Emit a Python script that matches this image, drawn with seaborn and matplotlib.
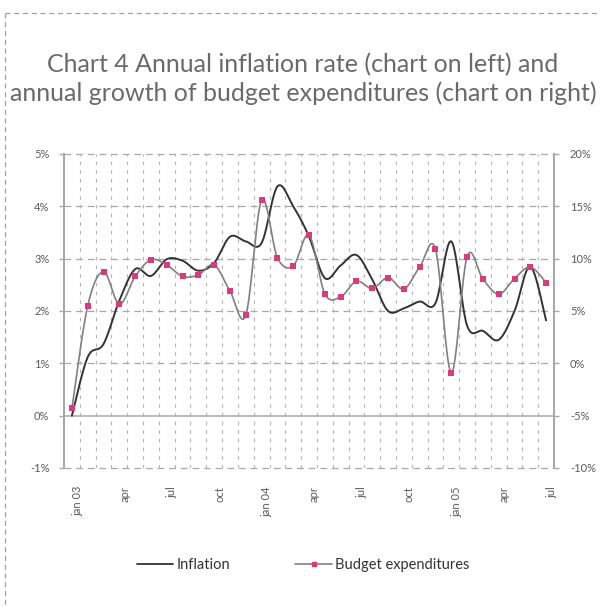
import numpy as np
import pandas as pd
import matplotlib
matplotlib.use("Agg")
import matplotlib.pyplot as plt
import seaborn as sns
from matplotlib.lines import Line2D

# Monthly observations, Jan 2003 - Jul 2005
months = ["Jan 03", "Feb 03", "Mar 03", "Apr 03", "May 03", "Jun 03",
          "Jul 03", "Aug 03", "Sep 03", "Oct 03", "Nov 03", "Dec 03",
          "Jan 04", "Feb 04", "Mar 04", "Apr 04", "May 04", "Jun 04",
          "Jul 04", "Aug 04", "Sep 04", "Oct 04", "Nov 04", "Dec 04",
          "Jan 05", "Feb 05", "Mar 05", "Apr 05", "May 05", "Jun 05",
          "Jul 05"]

# Annual inflation rate, % (left axis)
inflation = [0.0, 1.12, 1.37, 2.2, 2.8, 2.67, 2.99, 2.96, 2.77, 2.92,
             3.42, 3.33, 3.3, 4.38, 4.0, 3.42, 2.63, 2.87, 3.07, 2.6,
             2.0, 2.05, 2.18, 2.15, 3.33, 1.72, 1.62, 1.45, 2.0, 2.85,
             1.82]

# Annual growth of budget expenditures, % (right axis)
budget = [-4.3, 5.5, 8.75, 5.65, 8.3, 9.9, 9.4, 8.3, 8.45, 9.4,
          6.9, 4.6, 15.6, 10.1, 9.3, 12.25, 6.65, 6.35, 7.85, 7.15,
          8.2, 7.1, 9.2, 10.9, -0.9, 10.2, 8.05, 6.6, 8.1, 9.2,
          7.7]

tick_labels = ["jan 03", "apr", "jul", "oct", "jan 04", "apr", "jul",
               "oct", "jan 05", "apr", "jul"]
left_ticks = [-1, 0, 1, 2, 3, 4, 5]
right_ticks = [-10, -5, 0, 5, 10, 15, 20]

TITLE = ("Chart 4 Annual inflation rate (chart on left) and\n"
         "annual growth of budget expenditures (chart on right)")


def smooth_curve(values, steps=24):
    """Cubic Bezier smoothing through every point (spreadsheet-style)."""
    y = np.asarray(values, dtype=float)
    pts = np.column_stack([np.arange(len(y), dtype=float), y])
    ext = np.vstack([pts[0], pts, pts[-1]])
    t = np.linspace(0.0, 1.0, steps, endpoint=False)[:, None]
    out = []
    for i in range(len(pts) - 1):
        p0, p1, p2, p3 = ext[i], ext[i + 1], ext[i + 2], ext[i + 3]
        c1 = p1 + (p2 - p0) / 6.0
        c2 = p2 - (p3 - p1) / 6.0
        seg = ((1 - t) ** 3) * p1 + 3 * ((1 - t) ** 2) * t * c1 \
            + 3 * (1 - t) * t ** 2 * c2 + t ** 3 * p2
        out.append(seg)
    out.append(pts[-1:])
    arr = np.vstack(out)
    return pd.DataFrame({"x": arr[:, 0], "y": arr[:, 1]})


sns.set_theme(style="white")
plt.rcParams["font.family"] = ["Lato", "DejaVu Sans"]

GRID = "#a8a8a8"
VGRID = "#b4b4b4"
TEXT = "#5a5a5a"
PINK = "#dc3a7c"

fig = plt.figure(figsize=(6.0, 6.07), dpi=100)
ax = fig.add_axes([0.1067, 0.229, 0.8167, 0.5173])
ax2 = ax.twinx()

n = len(months)
ax.set_xlim(-0.5, n - 0.5)
ax.set_ylim(-1, 5)
ax2.set_ylim(-10, 20)

# gridlines: dashed horizontals, fine dashed verticals at month boundaries
for v in left_ticks:
    if v == 0:
        ax.axhline(v, color=GRID, lw=1.1, zorder=1)
    else:
        ax.axhline(v, color=GRID, lw=0.9, ls=(0, (5.5, 3.8)), zorder=1,
                   clip_on=False)
for b in np.arange(n - 1) + 0.5:
    ax.axvline(b, color=VGRID, lw=0.8, ls=(0, (3.2, 4.6)), zorder=1)

# smoothed series
inf_df = smooth_curve(inflation)
bud_df = smooth_curve(budget)
sns.lineplot(data=inf_df, x="x", y="y", ax=ax, color="#333333", lw=1.4,
             sort=False, estimator=None, zorder=3)
sns.lineplot(data=bud_df, x="x", y="y", ax=ax2, color="#808080", lw=1.2,
             sort=False, estimator=None, zorder=3)
sns.scatterplot(x=np.arange(n), y=budget, ax=ax2, color=PINK, marker="s",
                s=20, linewidth=0, zorder=4)

# axes styling
for a in (ax, ax2):
    a.set_xlabel("")
    a.set_ylabel("")
    for side in ("top", "bottom"):
        a.spines[side].set_visible(False)
    a.spines["left"].set_color(GRID)
    a.spines["right"].set_color(GRID)
    a.spines["left"].set_linewidth(1.3)
    a.spines["right"].set_linewidth(1.3)
    a.grid(False)

ax.set_yticks(left_ticks)
ax.set_yticklabels([f"{v}%" for v in left_ticks])
ax2.set_yticks(right_ticks)
ax2.set_yticklabels([f"{v}%" for v in right_ticks])
ax.tick_params(axis="y", left=True, length=3.5, width=1, color=GRID,
               labelsize=8, labelcolor=TEXT, pad=7)
ax2.tick_params(axis="y", right=True, length=3.5, width=1, color=GRID,
                labelsize=8, labelcolor=TEXT, pad=8)

xt = np.arange(0, n, 3)
ax.set_xticks(xt + 0.35)
ax.set_xticklabels(tick_labels, rotation=90)
ax.tick_params(axis="x", bottom=False, length=0, labelsize=8,
               labelcolor=TEXT, pad=13)

# title
fig.text(0.505, 1 - 79 / 607, TITLE, ha="center", va="center",
         fontsize=18, color="#6a6a6a", fontweight="normal",
         linespacing=1.3)

# legend
handles = [Line2D([], [], color="#333333", lw=1.3),
           Line2D([], [], color="#808080", lw=1.2, marker="s",
                  markersize=3.5, markerfacecolor=PINK,
                  markeredgecolor=PINK)]
fig.legend(handles, ["Inflation", "Budget expenditures"],
           loc="center", bbox_to_anchor=(0.505, 1 - 565 / 607), ncol=2,
           frameon=False, fontsize=10.5, handlelength=2.5,
           handletextpad=0.2, columnspacing=4.5, labelcolor="#333333")

# dashed frame around the chart
fig.add_artist(Line2D([5 / 600, 1.0], [1 - 13 / 607] * 2,
                      transform=fig.transFigure, color="#a0a0a0", lw=0.9,
                      ls=(0, (4, 3))))
fig.add_artist(Line2D([5 / 600] * 2, [1 - 13 / 607, 0.0],
                      transform=fig.transFigure, color="#a0a0a0", lw=0.9,
                      ls=(0, (4, 3))))

fig.savefig("out.png", dpi=100)
